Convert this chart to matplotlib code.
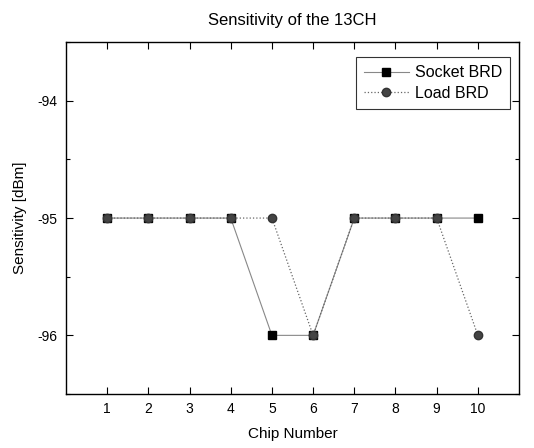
import matplotlib
matplotlib.use("Agg")
import matplotlib.pyplot as plt
from matplotlib.ticker import MultipleLocator

chips = [1, 2, 3, 4, 5, 6, 7, 8, 9, 10]
socket_brd = [-95, -95, -95, -95, -96, -96, -95, -95, -95, -95]
load_brd = [-95, -95, -95, -95, -95, -96, -95, -95, -95, -96]

plt.rcParams['font.family'] = ['Liberation Sans', 'DejaVu Sans']
plt.rcParams['axes.unicode_minus'] = False

fig = plt.figure(figsize=(5.34, 4.48), dpi=100)
ax = fig.add_axes([0.1236, 0.1205, 0.8484, 0.7855])

ax.plot(chips, socket_brd, '-', color='#888888', lw=0.8, marker='s', ms=5.5,
        mfc='black', mec='black', label='Socket BRD')
ax.plot(chips, load_brd, ':', color='#666666', lw=0.9, marker='o', ms=6,
        mfc='#444444', mec='#333333', label='Load BRD')

ax.set_xlim(0, 11)
ax.set_ylim(-96.5, -93.5)
ax.set_xticks(chips)
ax.set_yticks([-96, -95, -94])
ax.yaxis.set_minor_locator(MultipleLocator(0.5))
ax.tick_params(axis='both', which='both', direction='in', top=True, right=True,
               labelsize=10, width=0.8)
ax.tick_params(axis='both', which='major', length=5, pad=6)
ax.tick_params(axis='y', which='minor', length=3)
for s in ax.spines.values():
    s.set_linewidth(1.0)

ax.set_xlabel('Chip Number', fontsize=11, labelpad=8)
ax.set_ylabel('Sensitivity [dBm]', fontsize=11, labelpad=8)
ax.set_title('Sensitivity of the 13CH', fontsize=12, pad=12)

leg = ax.legend(loc='upper right', fontsize=11.5, frameon=True, fancybox=False,
                edgecolor='black', handlelength=2.8, handletextpad=0.4,
                borderpad=0.5, labelspacing=0.35,
                bbox_to_anchor=(0.998, 0.98))
leg.get_frame().set_linewidth(0.8)

fig.savefig('out.png', dpi=100)
